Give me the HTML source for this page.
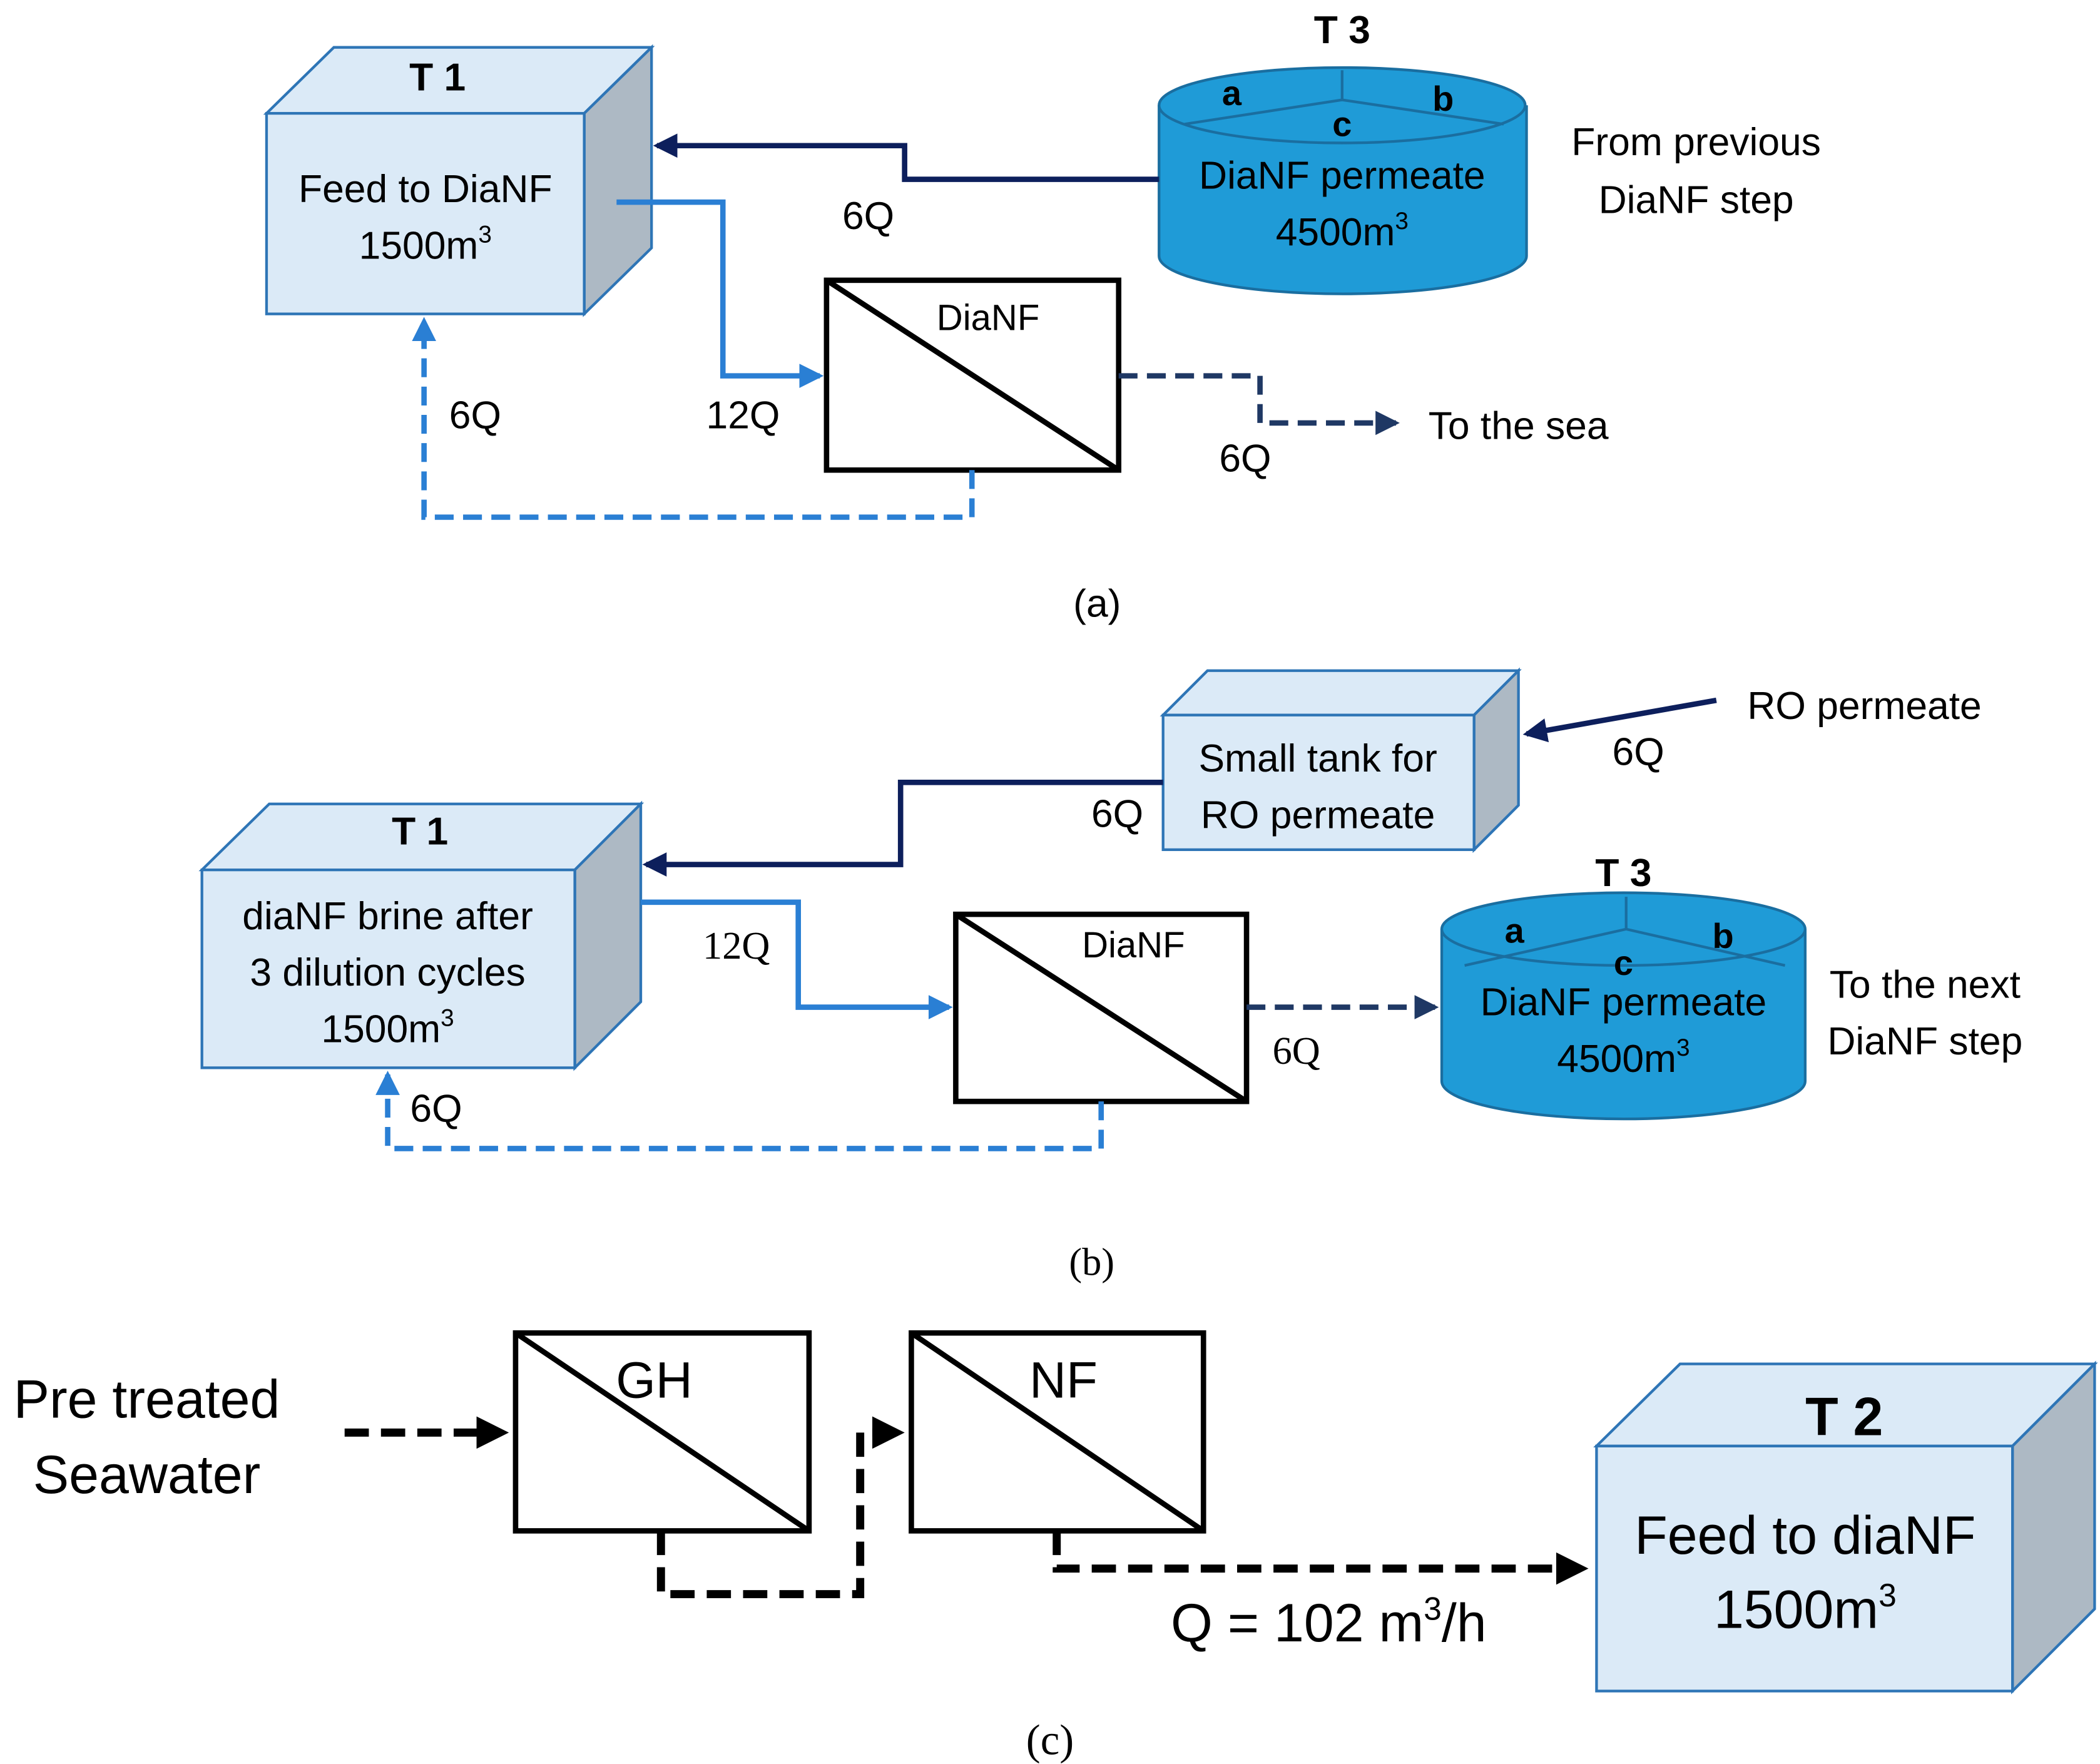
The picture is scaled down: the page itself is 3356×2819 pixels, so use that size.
<!DOCTYPE html>
<html><head><meta charset="utf-8"><style>
html,body{margin:0;padding:0;background:#fff;}
svg{display:block;}
text{font-family:"Liberation Sans",sans-serif;fill:#000;}
.s{font-family:"Liberation Serif",serif;}
</style></head><body>
<svg width="3356" height="2819" viewBox="0 0 1560 1310" xmlns="http://www.w3.org/2000/svg">
<defs>
<marker id="an" markerWidth="4.5" markerHeight="4.5" refX="3.8" refY="2.25" orient="auto" markerUnits="strokeWidth"><path d="M0,0 L4.5,2.25 L0,4.5z" fill="#0d1f5c"/></marker>
<marker id="ab" markerWidth="4.5" markerHeight="4.5" refX="3.8" refY="2.25" orient="auto" markerUnits="strokeWidth"><path d="M0,0 L4.5,2.25 L0,4.5z" fill="#2a7fd4"/></marker>
<marker id="ad" markerWidth="4.5" markerHeight="4.5" refX="3.8" refY="2.25" orient="auto" markerUnits="strokeWidth"><path d="M0,0 L4.5,2.25 L0,4.5z" fill="#1f3864"/></marker>
<marker id="ak" markerWidth="4" markerHeight="4" refX="3" refY="2" orient="auto" markerUnits="strokeWidth"><path d="M0,0 L4,2 L0,4z" fill="#000"/></marker>
</defs>
<rect width="1560" height="1310" fill="#fff"/>
<g stroke="#2e75b6" stroke-width="2">
<polygon points="198,84 248,35 484,35 434,84" fill="#dbeaf7"/>
<polygon points="434,84 484,35 484,184 434,233" fill="#adb9c4"/>
<rect x="198" y="84" width="236" height="149" fill="#dbeaf7"/>
<polygon points="864,531 897,498 1128,498 1095,531" fill="#dbeaf7"/>
<polygon points="1095,531 1128,498 1128,598 1095,631" fill="#adb9c4"/>
<rect x="864" y="531" width="231" height="100" fill="#dbeaf7"/>
<polygon points="150,646 200,597 476,597 427,646" fill="#dbeaf7"/>
<polygon points="427,646 476,597 476,744 427,793" fill="#adb9c4"/>
<rect x="150" y="646" width="277" height="147" fill="#dbeaf7"/>
<polygon points="1186,1074 1248,1013 1556,1013 1495,1074" fill="#dbeaf7"/>
<polygon points="1495,1074 1556,1013 1556,1195 1495,1256" fill="#adb9c4"/>
<rect x="1186" y="1074" width="309" height="182" fill="#dbeaf7"/>
</g>
<g stroke="#1a6ea0" stroke-width="2" fill="#1f9bd7">
<path d="M861,78 L861,190 A136,28 0 0 0 1134,190 L1134,78"/>
<ellipse cx="997" cy="78" rx="136" ry="28"/>
<path d="M880,92 L997,74 L1117,92 M997,74 L997,52" fill="none"/>
<path d="M1071,690 L1071,803 A135,28 0 0 0 1341,803 L1341,690"/>
<ellipse cx="1206" cy="690" rx="135" ry="27"/>
<path d="M1088,717 L1208,690 L1326,717 M1208,690 L1208,666" fill="none"/>
</g>
<g stroke="#000" stroke-width="4" fill="#fff">
<rect x="614" y="208" width="217" height="141"/><line x1="614" y1="208" x2="831" y2="349"/>
<rect x="710" y="679" width="216" height="139"/><line x1="710" y1="679" x2="926" y2="818"/>
<rect x="383" y="990" width="218" height="147"/><line x1="383" y1="990" x2="601" y2="1137"/>
<rect x="677" y="990" width="217" height="147"/><line x1="677" y1="990" x2="894" y2="1137"/>
</g>
<g fill="none" stroke-width="4">
<polyline points="861,133 672,133 672,108 488,108" stroke="#0d1f5c" marker-end="url(#an)"/>
<polyline points="458,150 537,150 537,279 609,279" stroke="#2a7fd4" marker-end="url(#ab)"/>
<polyline points="831,279 936,279 936,314 1037,314" stroke="#1f3864" stroke-dasharray="14,7" marker-end="url(#ad)"/>
<polyline points="722,349 722,384 315,384 315,238" stroke="#2a7fd4" stroke-dasharray="14,7" marker-end="url(#ab)"/>
<polyline points="1275,520 1134,545" stroke="#0d1f5c" marker-end="url(#an)"/>
<polyline points="864,581 669,581 669,642 480,642" stroke="#0d1f5c" marker-end="url(#an)"/>
<polyline points="476,670 593,670 593,748 705,748" stroke="#2a7fd4" marker-end="url(#ab)"/>
<polyline points="926,748 1066,748" stroke="#1f3864" stroke-dasharray="14,7" marker-end="url(#ad)"/>
<polyline points="818,818 818,853 288,853 288,798" stroke="#2a7fd4" stroke-dasharray="14,7" marker-end="url(#ab)"/>
</g>
<g fill="none" stroke="#000" stroke-width="6" stroke-dasharray="18,9">
<polyline points="256,1064 372,1064" marker-end="url(#ak)"/>
<polyline points="491,1137 491,1184 639,1184 639,1064 666,1064" marker-end="url(#ak)"/>
<polyline points="785,1137 785,1165 1174,1165" marker-end="url(#ak)"/>
</g>
<g text-anchor="middle" font-size="29">
<text x="325" y="67" font-weight="bold">T 1</text>
<text x="316" y="150">Feed to DiaNF</text>
<text x="316" y="192">1500m<tspan font-size="18" dy="-12">3</tspan></text>
<text x="997" y="32" font-weight="bold">T 3</text>
<text x="915" y="78" font-weight="bold" font-size="26">a</text>
<text x="1072" y="82" font-weight="bold" font-size="26">b</text>
<text x="997" y="101" font-weight="bold" font-size="26">c</text>
<text x="997" y="140">DiaNF permeate</text>
<text x="997" y="182">4500m<tspan font-size="18" dy="-12">3</tspan></text>
<text x="1260" y="115">From previous</text>
<text x="1260" y="158">DiaNF step</text>
<text x="645" y="170">6Q</text>
<text x="734" y="245" font-size="27">DiaNF</text>
<text x="552" y="318">12Q</text>
<text x="353" y="318">6Q</text>
<text x="925" y="350">6Q</text>
<text x="1128" y="326">To the sea</text>
<text x="815" y="458">(a)</text>
<text x="979" y="573">Small tank for</text>
<text x="979" y="615">RO permeate</text>
<text x="1217" y="568">6Q</text>
<text x="1385" y="534">RO permeate</text>
<text x="830" y="614">6Q</text>
<text x="312" y="627" font-weight="bold">T 1</text>
<text x="288" y="690">diaNF brine after</text>
<text x="288" y="732">3 dilution cycles</text>
<text x="288" y="774">1500m<tspan font-size="18" dy="-12">3</tspan></text>
<text x="547" y="712" class="s">12Q</text>
<text x="842" y="711" font-size="27">DiaNF</text>
<text x="963" y="790" class="s">6Q</text>
<text x="324" y="833">6Q</text>
<text x="1206" y="658" font-weight="bold">T 3</text>
<text x="1125" y="700" font-weight="bold" font-size="26">a</text>
<text x="1280" y="704" font-weight="bold" font-size="26">b</text>
<text x="1206" y="724" font-weight="bold" font-size="26">c</text>
<text x="1206" y="754">DiaNF permeate</text>
<text x="1206" y="796">4500m<tspan font-size="18" dy="-12">3</tspan></text>
<text x="1430" y="741">To the next</text>
<text x="1430" y="783">DiaNF step</text>
<text x="811" y="947" class="s">(b)</text>
<text x="109" y="1053" font-size="40">Pre treated</text>
<text x="109" y="1109" font-size="40">Seawater</text>
<text x="486" y="1038" font-size="38">GH</text>
<text x="790" y="1038" font-size="38">NF</text>
<text x="987" y="1219" font-size="40">Q = 102 m<tspan font-size="24" dy="-16">3</tspan><tspan dy="16">/h</tspan></text>
<text x="1370" y="1066" font-size="40" font-weight="bold">T 2</text>
<text x="1341" y="1154" font-size="40">Feed to diaNF</text>
<text x="1341" y="1209" font-size="40">1500m<tspan font-size="24" dy="-16">3</tspan></text>
<text x="780" y="1303" class="s" font-size="32">(c)</text>
</g>
</svg>
</body></html>
